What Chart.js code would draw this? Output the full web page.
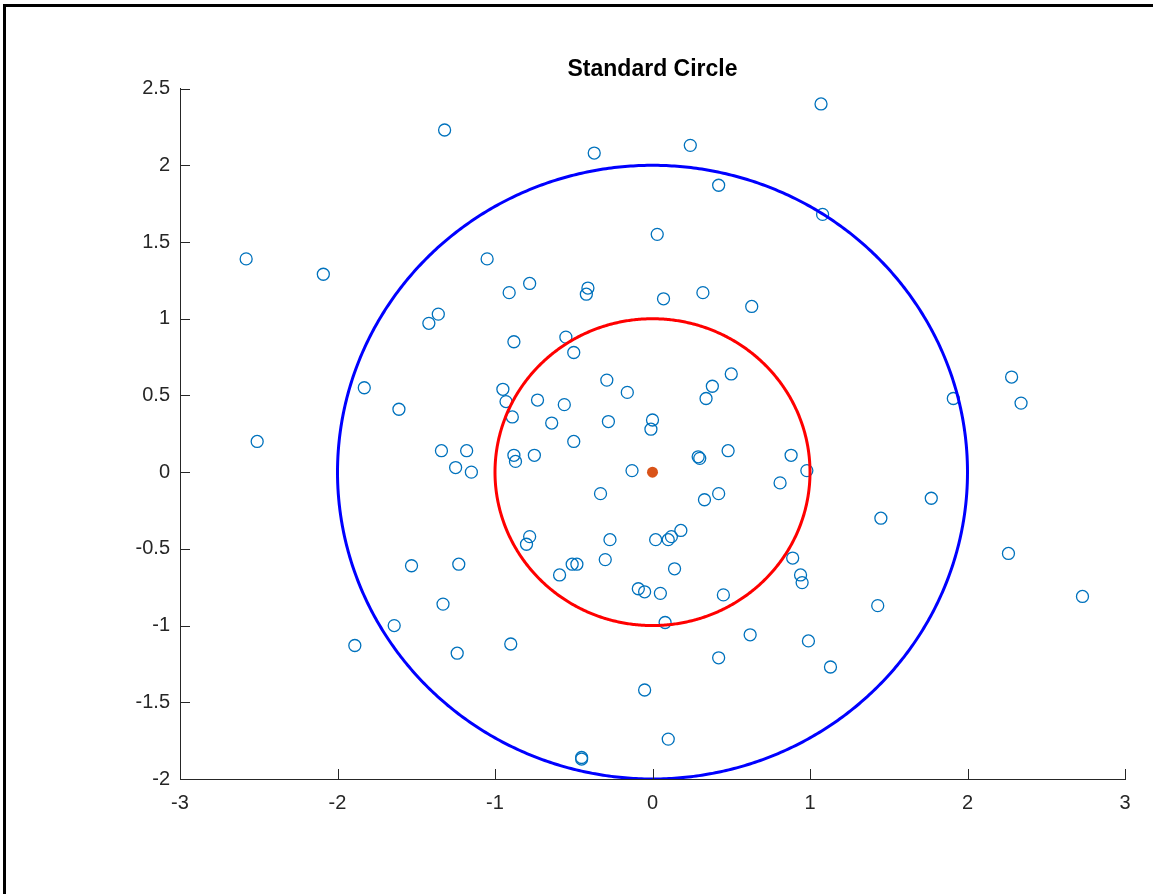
<!DOCTYPE html>
<html>
<head>
<meta charset="utf-8">
<title>Standard Circle</title>
<script src="https://cdn.jsdelivr.net/npm/chart.js@4.4.0/dist/chart.umd.min.js"></script>
<style>
  html, body { margin: 0; padding: 0; background: #fff; overflow: hidden; }
  #wrap { position: relative; width: 1153px; height: 894px; }
  #frame {
    position: absolute; left: 3px; top: 4px; right: -10px; bottom: -10px;
    border-top: 3px solid #000; border-left: 3px solid #000;
    pointer-events: none;
  }
</style>
</head>
<body>
<div id="wrap">
  <canvas id="circleChart" width="1153" height="894"></canvas>
  <div id="frame"></div>
</div>
<script>
// scattered samples
const sampleX = [
  -1.32, -2.58, -2.09, -1.05, -1.36, -1.42, -1.83, -1.61, -2.51, -0.37,
   0.24,  0.42,  0.03, -0.91, -0.78, -0.41, -0.42,  0.07,  0.32,  0.63,
  -0.88, -0.55, -0.50, -0.29, -0.16,  0.50,  0.38,  0.34, -0.95, -0.93,
  -0.73, -0.56, -0.89, -0.64, -0.28,  0.00, -0.01,  1.07,  1.08,  2.28,
   2.34,  1.91, -1.34, -1.18, -1.25, -1.15, -1.53, -1.23, -1.33, -1.64,
  -1.89, -1.24, -0.50, -0.88, -0.87, -0.75, -0.13,  0.29,  0.30,  0.48,
   0.88,  0.98,  0.81, -0.33,  0.42,  0.33,  0.18,  0.12,  0.10,  0.02,
  -0.27, -0.78, -0.80, -0.30, -0.51, -0.48, -0.59,  0.14,  0.89,  0.94,
   0.95, -0.09, -0.05,  0.05,  0.45,  0.08,  0.62,  0.99, -0.90,  0.42,
  -0.05,  0.10, -0.45, -0.45,  1.77,  1.45,  2.26,  2.73,  1.43,  1.13
];
const sampleY = [
   2.23,  1.39,  1.29,  1.39,  1.03,  0.97,  0.55,  0.41,  0.20,  2.08,
   2.13,  1.87,  1.55,  1.17,  1.23,  1.20,  1.16,  1.13,  1.17,  1.08,
   0.85,  0.88,  0.78,  0.60,  0.52,  0.64,  0.56,  0.48,  0.54,  0.46,
   0.47,  0.44,  0.36,  0.32,  0.33,  0.34,  0.28,  2.40,  1.68,  0.62,
   0.45,  0.48,  0.14,  0.14,  0.03,  0.00, -0.61, -0.60, -0.86, -1.00,
  -1.13, -1.18,  0.20,  0.11,  0.07,  0.11,  0.01,  0.10,  0.09,  0.14,
   0.11,  0.01, -0.07, -0.14, -0.14, -0.18, -0.38, -0.42, -0.44, -0.44,
  -0.44, -0.42, -0.47, -0.57, -0.60, -0.60, -0.67, -0.63, -0.56, -0.67,
  -0.72, -0.76, -0.78, -0.79, -0.80, -0.98, -1.06, -1.10, -1.12, -1.21,
  -1.42, -1.74, -1.86, -1.87, -0.17, -0.30, -0.53, -0.81, -0.87, -1.27
];

// centre of the rings
const centerX = [0];
const centerY = [0];

// ring radii: inner, outer
const circleRadii = [1, 2];

const xTicks = [-3, -2, -1, 0, 1, 2, 3];
const yTicks = [-2, -1.5, -1, -0.5, 0, 0.5, 1, 1.5, 2, 2.5];

const axisColor = '#262626';
const fontFamily = "'Liberation Sans', Arial, Helvetica, sans-serif";
const tickLen = 10;

function toPoints(xs, ys) {
  return xs.map((x, i) => ({ x: x, y: ys[i] }));
}

// outline of a circle of radius r around the origin
function ringPoints(r) {
  const pts = [];
  for (let a = 0; a <= 360; a++) {
    const t = a * Math.PI / 180;
    pts.push({ x: r * Math.cos(t), y: r * Math.sin(t) });
  }
  return pts;
}

// tick marks pointing into the plot area
const innerTicks = {
  id: 'innerTicks',
  afterDraw(chart) {
    const ctx = chart.ctx;
    const xs = chart.scales.x;
    const ys = chart.scales.y;
    const area = chart.chartArea;
    ctx.save();
    ctx.strokeStyle = axisColor;
    ctx.lineWidth = 1;
    ctx.beginPath();
    xTicks.forEach(v => {
      const px = Math.round(xs.getPixelForValue(v)) + 0.5;
      ctx.moveTo(px, area.bottom);
      ctx.lineTo(px, area.bottom - tickLen);
    });
    yTicks.forEach(v => {
      const py = Math.round(ys.getPixelForValue(v)) + 0.5;
      ctx.moveTo(area.left, py);
      ctx.lineTo(area.left + tickLen, py);
    });
    ctx.stroke();
    ctx.restore();
  }
};

const ctx = document.getElementById('circleChart').getContext('2d');

// small tension keeps Chart.js off its fast path, which leaves spikes on the vertical parts of a ring
const ringStyle = {
  showLine: true,
  borderWidth: 3,
  pointRadius: 0,
  fill: false,
  tension: 0.01
};

new Chart(ctx, {
  type: 'scatter',
  data: {
    datasets: [
      {
        label: 'centre',
        data: toPoints(centerX, centerY),
        pointStyle: 'circle',
        pointRadius: 5.5,
        pointBackgroundColor: '#D95319',
        pointBorderColor: '#D95319',
        pointBorderWidth: 0
      },
      Object.assign({
        label: 'r = ' + circleRadii[0],
        data: ringPoints(circleRadii[0]),
        borderColor: '#FF0000'
      }, ringStyle),
      Object.assign({
        label: 'r = ' + circleRadii[1],
        data: ringPoints(circleRadii[1]),
        borderColor: '#0000FF'
      }, ringStyle),
      {
        label: 'samples',
        data: toPoints(sampleX, sampleY),
        pointStyle: 'circle',
        pointRadius: 6,
        pointBorderWidth: 1.3,
        pointBorderColor: '#0072BD',
        pointBackgroundColor: 'rgba(0,0,0,0)'
      }
    ]
  },
  options: {
    responsive: false,
    animation: false,
    events: [],
    layout: { padding: { left: 0, right: 28, top: 0, bottom: 0 } },
    plugins: {
      legend: { display: false },
      tooltip: { enabled: false },
      title: {
        display: true,
        text: 'Standard Circle',
        fullSize: false,
        color: '#000',
        font: { family: fontFamily, size: 23, weight: 'bold' },
        padding: { top: 56, bottom: 5 }
      }
    },
    scales: {
      x: {
        type: 'linear',
        min: -3,
        max: 3,
        afterBuildTicks: s => { s.ticks = xTicks.map(v => ({ value: v })); },
        afterFit: s => { s.height = 115; },
        grid: { display: true, drawOnChartArea: false, drawTicks: false },
        border: { display: true, color: axisColor, width: 1 },
        ticks: {
          color: axisColor,
          padding: 12,
          maxRotation: 0,
          font: { family: fontFamily, size: 20 },
          callback: v => String(v)
        }
      },
      y: {
        type: 'linear',
        min: -2,
        max: 2.5,
        afterBuildTicks: s => { s.ticks = yTicks.map(v => ({ value: v })); },
        afterFit: s => { s.width = 180; },
        grid: { display: true, drawOnChartArea: false, drawTicks: false },
        border: { display: true, color: axisColor, width: 1 },
        ticks: {
          color: axisColor,
          padding: 10,
          font: { family: fontFamily, size: 20 },
          callback: v => String(v)
        }
      }
    }
  },
  plugins: [innerTicks]
});
</script>
</body>
</html>
